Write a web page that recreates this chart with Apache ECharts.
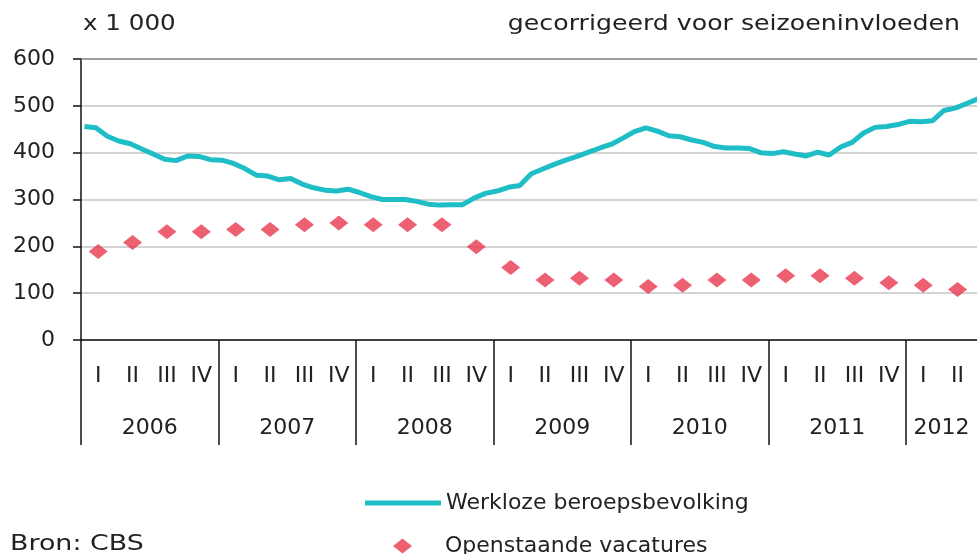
<!DOCTYPE html>
<html>
<head>
<meta charset="utf-8">
<script src="https://cdn.jsdelivr.net/npm/echarts@6/dist/echarts.min.js"></script>
<style>html,body{margin:0;padding:0;background:#fff}#c{width:977px;height:554px}</style>
</head>
<body>
<div id="c"></div>
<script>
// Monthly unemployed labour force (x 1 000), Jan 2006 onward
const werkloze = [456,453,435,425,419,408,397,386,383,393,392,385,
  384,377,366,352,350,342,345,333,325,320,318,322,
  315,306,300,300,300,296,290,288,289,289,303,313,
  318,326,330,355,365,375,384,392,401,410,418,431,
  445,453,446,436,434,427,422,413,410,410,409,400,
  398,402,397,393,401,395,412,422,442,454,456,460,
  467,466,468,490,495,505,515];
// Quarterly job vacancies (x 1 000), 2006 Q1 onward
const vacatures = [189,208,231,231, 236,236,246,250, 246,246,246,199,
  155,128,132,128, 114,117,128,128, 137,137,132,122, 117,108];
const years = ['2006','2007','2008','2009','2010','2011','2012'];
const quarters = ['I','II','III','IV'];
const yTicks = [0,100,200,300,400,500,600];

const FONT = 'DejaVu Sans';
const GRID_LEFT = 81, GRID_W = 896;
const MONTH_W = 137.5 / 12;
const XMAX = GRID_W / MONTH_W;

const lineData = werkloze.map((v, i) => [i + 0.3, v]);
const vacData = vacatures.map((v, i) => [i * 3 + 1.5, v]);

// axis label / tick positions (in months)
const quarterPos = [], quarterTxt = [];
for (let q = 0; q * 3 + 1.5 < XMAX; q++) { quarterPos.push(q * 3 + 1.5); quarterTxt.push(quarters[q % 4]); }
const yearPos = years.map((y, i) => Math.min(i * 12 + 6, (i * 12 + Math.min(XMAX, i * 12 + 12)) / 2));
const yearSep = years.map((y, i) => i * 12);

const chart = echarts.init(document.getElementById('c'));
const baseX = { type: 'value', min: 0, max: XMAX, gridIndex: 0, position: 'bottom', splitLine: { show: false } };
chart.setOption({
  animation: false,
  grid: { left: GRID_LEFT, top: 59, width: GRID_W, height: 281, outerBoundsMode: 'none', containLabel: false },
  xAxis: [
    Object.assign({}, baseX, {
      axisLine: { show: true, lineStyle: { color: '#111', width: 1.5 } },
      axisTick: { show: false },
      axisLabel: { margin: 25, fontFamily: FONT, fontSize: 22, color: '#222',
        customValues: quarterPos,
        formatter: (v, idx) => quarterTxt[quarterPos.findIndex(p => Math.abs(p - v) < 1e-6)] || '' }
    }),
    Object.assign({}, baseX, {
      axisLine: { show: false }, axisTick: { show: false },
      axisLabel: { margin: 77, fontFamily: FONT, fontSize: 22, color: '#222',
        customValues: yearPos,
        formatter: (v) => years[yearPos.findIndex(p => Math.abs(p - v) < 1e-6)] || '' }
    }),
    Object.assign({}, baseX, {
      axisLine: { show: false },
      axisTick: { show: true, length: 105, customValues: yearSep, lineStyle: { color: '#111', width: 1.5 } },
      axisLabel: { show: false }
    }),
    Object.assign({}, baseX, {
      position: 'top',
      axisLine: { show: true, lineStyle: { color: '#8a8a8a', width: 1.5 } },
      axisTick: { show: false }, axisLabel: { show: false }
    })
  ],
  yAxis: {
    type: 'value', min: yTicks[0], max: yTicks[yTicks.length - 1], interval: 100,
    axisLine: { show: true, lineStyle: { color: '#111', width: 1.5 } },
    axisTick: { show: true, length: 8, lineStyle: { color: '#111', width: 1.5 } },
    axisLabel: { margin: 26, fontFamily: FONT, fontSize: 22, color: '#222' },
    splitLine: { lineStyle: { color: '#c4c4c4', width: 1.5 } }
  },
  legend: [
    { left: 365, top: 492, padding: 0, orient: 'vertical', itemWidth: 76, itemHeight: 5,
      data: [{ name: 'Werkloze beroepsbevolking', icon: 'rect' }],
      textStyle: { fontFamily: FONT, fontSize: 22, color: '#222' } },
    { left: 393, top: 535, padding: 0, orient: 'vertical', itemWidth: 19, itemHeight: 15,
      data: [{ name: 'Openstaande vacatures', icon: 'diamond' }],
      textStyle: { fontFamily: FONT, fontSize: 22, color: '#222', padding: [0, 0, 0, 28] } }
  ],
  graphic: [
    { type: 'text', x: 83, y: 25, scaleX: 1.17, style: { text: 'x 1 000', font: '21px "DejaVu Sans"', fill: '#222', verticalAlign: 'middle' } },
    { type: 'text', x: 960, y: 25, scaleX: 1.2, style: { text: 'gecorrigeerd voor seizoeninvloeden', font: '21px "DejaVu Sans"', fill: '#222', align: 'right', verticalAlign: 'middle' } },
    { type: 'text', x: 10, y: 545, scaleX: 1.28, style: { text: 'Bron: CBS', font: '21px "DejaVu Sans"', fill: '#222', verticalAlign: 'middle' } }
  ],
  series: [
    { name: 'Werkloze beroepsbevolking', type: 'line', xAxisIndex: 0, data: lineData,
      symbol: 'none', lineStyle: { color: '#1fbdc6', width: 5 }, itemStyle: { color: '#1fbdc6' }, z: 3 },
    { name: 'Openstaande vacatures', type: 'scatter', xAxisIndex: 0, data: vacData,
      symbol: 'diamond', symbolSize: [19, 15], itemStyle: { color: '#e8384f' }, z: 4 }
  ]
});
</script>
</body>
</html>
